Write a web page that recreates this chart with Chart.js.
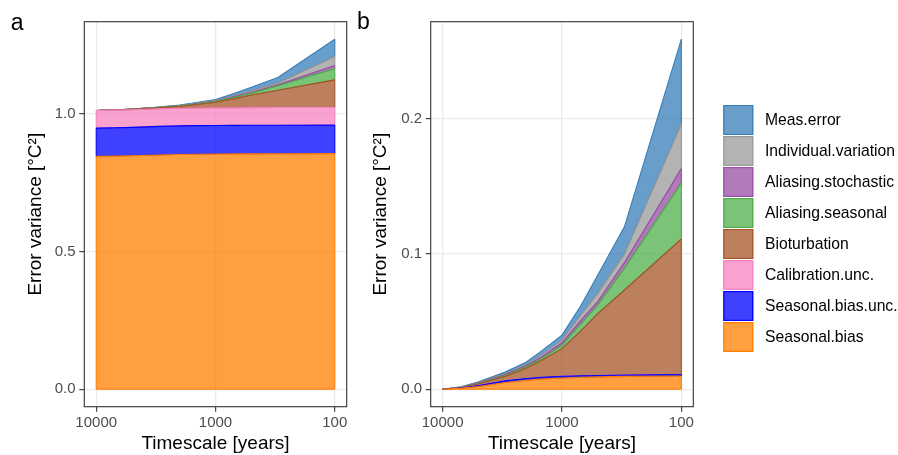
<!DOCTYPE html>
<html><head><meta charset="utf-8">
<script src="https://cdn.jsdelivr.net/npm/chart.js@4.4.1/dist/chart.umd.min.js"></script>
<style>
html,body{margin:0;padding:0;background:#fff;overflow:hidden;}
#wrap{position:relative;width:898px;height:455px;background:#fff;}
canvas{position:absolute;top:0;}
#ca{left:0;width:355px;height:455px;}
#cb{left:355px;width:543px;height:455px;}
</style></head><body>
<div id="wrap"><canvas id="ca" width="355" height="455"></canvas><canvas id="cb" width="543" height="455"></canvas></div>
<script>
// ---------- data ----------
const timescales = [10000, 7000, 5000, 3000, 2000, 1500, 1000, 700, 500, 300, 100];
const seriesNames = ['Seasonal.bias','Seasonal.bias.unc.','Calibration.unc.','Bioturbation','Aliasing.seasonal','Aliasing.stochastic','Individual.variation','Meas.error'];

// panel b (timescale dependent part)
const b_seasonalBias        = [0, 0.0008, 0.0020, 0.0050, 0.0066, 0.0075, 0.0083, 0.0088, 0.0091, 0.0095, 0.0098];
const b_seasonalBiasUnc     = [0, 0.0003, 0.0008, 0.0012, 0.0013, 0.0013, 0.0013, 0.0012, 0.0011, 0.0010, 0.0010];
const b_calibration         = [0, 0, 0, 0, 0, 0, 0, 0, 0, 0, 0];
const b_bioturbation        = [0, 0.0002, 0.0012, 0.0033, 0.0076, 0.0122, 0.0204, 0.0330, 0.0458, 0.0628, 0.1002];
const b_aliasingSeasonal    = [0, 0.0001, 0.0004, 0.0007, 0.0010, 0.0014, 0.0024, 0.0050, 0.0065, 0.0162, 0.0414];
const b_aliasingStochastic  = [0, 0.0001, 0.0003, 0.0006, 0.0008, 0.0013, 0.0019, 0.0025, 0.0025, 0.0040, 0.0106];
const b_individualVariation = [0, 0.0001, 0.0003, 0.0007, 0.0010, 0.0015, 0.0022, 0.0040, 0.0060, 0.0065, 0.0330];
const b_measError           = [0, 0.0002, 0.0005, 0.0013, 0.0017, 0.0028, 0.0035, 0.0068, 0.0136, 0.0200, 0.0626];

// panel a (total error variance)
const a_seasonalBias        = [0.845, 0.8458, 0.847, 0.850, 0.8516, 0.8525, 0.8533, 0.8538, 0.8541, 0.8545, 0.8548];
const a_seasonalBiasUnc     = [0.1025, 0.1028, 0.1033, 0.1037, 0.1038, 0.1038, 0.1038, 0.1037, 0.1036, 0.1035, 0.1035];
const a_calibration         = [0.064, 0.064, 0.064, 0.064, 0.064, 0.064, 0.064, 0.064, 0.064, 0.064, 0.064];
const a_bioturbation        = [0, 0.0002, 0.0012, 0.0033, 0.0076, 0.0122, 0.0204, 0.0330, 0.0458, 0.0628, 0.1002];
const a_aliasingSeasonal    = [0, 0.0001, 0.0004, 0.0007, 0.0010, 0.0014, 0.0024, 0.0050, 0.0065, 0.0162, 0.0414];
const a_aliasingStochastic  = [0, 0.0001, 0.0003, 0.0006, 0.0008, 0.0013, 0.0019, 0.0025, 0.0025, 0.0040, 0.0106];
const a_individualVariation = [0, 0.0001, 0.0003, 0.0007, 0.0010, 0.0015, 0.0022, 0.0040, 0.0060, 0.0065, 0.0330];
const a_measError           = [0, 0.0002, 0.0005, 0.0013, 0.0017, 0.0028, 0.0035, 0.0068, 0.0136, 0.0200, 0.0626];

const xTicks  = [10000, 1000, 100];
const yTicksA = [0, 0.5, 1.0];
const yTicksB = [0, 0.1, 0.2];

// ---------- styles ----------
const lineColors = ['#FF7F00','#0000FF','#F781BF','#A65628','#4DAF4A','#984EA3','#999999','#377EB8'];
const fillColors = ['rgba(255,127,0,0.75)','rgba(0,0,255,0.75)','rgba(247,129,191,0.75)','rgba(166,86,40,0.75)',
                    'rgba(77,175,74,0.75)','rgba(152,78,163,0.75)','rgba(153,153,153,0.75)','rgba(55,126,184,0.75)'];
const FAMILY = "'Liberation Sans', Arial, Helvetica, sans-serif";
Chart.defaults.font.family = FAMILY;

function makeDatasets(list){
  return list.map((vals,i)=>({
    label: seriesNames[i],
    data: timescales.map((t,j)=>({x:t, y:vals[j]})),
    fill: i===0 ? 'origin' : '-1',
    backgroundColor: fillColors[i],
    borderColor: lineColors[i],
    borderWidth: 1.1,
    pointRadius: 0,
    pointHoverRadius: 0,
    tension: 0
  }));
}

const outlinePlugin = {
  id:'outline',
  afterDatasetDraw(chart, args){
    const i = args.index, pts = args.meta.data;
    if(!pts || !pts.length) return;
    const ys = chart.scales.y;
    const lower = i===0 ? pts.map(p=>({x:p.x, y:ys.getPixelForValue(0)})) : chart.getDatasetMeta(i-1).data;
    const ctx = chart.ctx, n = pts.length-1;
    ctx.save();
    ctx.strokeStyle = lineColors[i]; ctx.lineWidth = 1.1;
    ctx.beginPath();
    ctx.moveTo(lower[0].x, lower[0].y); ctx.lineTo(pts[0].x, pts[0].y);
    ctx.moveTo(lower[n].x, lower[n].y); ctx.lineTo(pts[n].x, pts[n].y);
    ctx.moveTo(lower[0].x, lower[0].y);
    for(let k=1;k<=n;k++) ctx.lineTo(lower[k].x, lower[k].y);
    ctx.stroke();
    ctx.restore();
  }
};

const framePlugin = {
  id:'frame',
  afterDraw(chart, args, opts){
    const a = chart.chartArea, ctx = chart.ctx;
    ctx.save();
    ctx.strokeStyle = '#333333'; ctx.lineWidth = 1.1;
    ctx.strokeRect(a.left, a.top, a.right-a.left, a.bottom-a.top);
    ctx.fillStyle = '#000'; ctx.font = '23px ' + FAMILY; ctx.textBaseline = 'alphabetic'; ctx.textAlign='left';
    ctx.fillText(opts.tag, opts.tx, opts.ty);
    ctx.restore();
  }
};

const legendPlugin = {
  id:'sideLegend',
  afterDraw(chart){
    const ctx = chart.ctx, ds = chart.data.datasets;
    ctx.save();
    ctx.font = '15.7px ' + FAMILY; ctx.textBaseline = 'middle'; ctx.textAlign = 'left';
    for(let r=0;r<ds.length;r++){
      const i = ds.length-1-r;
      const y0 = 105 + 31*r;
      ctx.fillStyle = '#fff'; ctx.fillRect(368.3, y0, 30, 30);
      ctx.fillStyle = fillColors[i]; ctx.fillRect(368.3, y0, 30, 30);
      ctx.strokeStyle = lineColors[i]; ctx.lineWidth = 1.2;
      ctx.strokeRect(368.9, y0+0.6, 28.8, 28.8);
      ctx.fillStyle = '#000';
      ctx.fillText(ds[i].label, 410, y0+15.5);
    }
    ctx.restore();
  }
};

function makeOptions(cfg){
  return {
    responsive:false, animation:false,
    layout:{padding:{left:0, right:cfg.padRight, top:21.7, bottom:0}},
    plugins:{legend:{display:false}, tooltip:{enabled:false}, frame:{tag:cfg.tag, tx:cfg.tx, ty:cfg.ty}},
    scales:{
      x:{
        type:'logarithmic', reverse:true, min:79.43, max:12589.25, bounds:'data',
        afterBuildTicks: s => { s.ticks = xTicks.map(v=>({value:v})); },
        afterFit: s => { s.height = 48.3; },
        ticks:{autoSkip:false, maxRotation:0, minRotation:0, padding:2.5, color:'#4D4D4D', font:{size:15}, callback: v => String(v)},
        grid:{color:'#EBEBEB', lineWidth:1.3, tickColor:'#333333', tickLength:5, tickWidth:1.1},
        border:{display:false},
        title:{display:true, text:'Timescale [years]', color:'#000', font:{size:19}, padding:{top:0,bottom:0}}
      },
      y:{
        type:'linear', stacked:true, min:cfg.ymin, max:cfg.ymax, bounds:'data',
        afterBuildTicks: s => { s.ticks = cfg.yTicks.map(v=>({value:v})); },
        afterFit: s => { s.width = cfg.yWidth; },
        ticks:{padding:3.7, color:'#4D4D4D', font:{size:15}, callback: v => Number(v).toFixed(1)},
        grid:{color:'#EBEBEB', lineWidth:1.3, tickColor:'#333333', tickLength:5, tickWidth:1.1},
        border:{display:false},
        title:{display:true, text:'Error variance [°C²]', color:'#000', font:{size:19}, padding:{top:cfg.titlePad,bottom:0}}
      }
    }
  };
}

new Chart(document.getElementById('ca'), {
  type:'line',
  data:{datasets: makeDatasets([a_seasonalBias,a_seasonalBiasUnc,a_calibration,a_bioturbation,a_aliasingSeasonal,a_aliasingStochastic,a_individualVariation,a_measError])},
  options: makeOptions({padRight:8.3, ymin:-0.0635, ymax:1.3336, yTicks:yTicksA, yWidth:84.3, titlePad:24.6, tag:'a', tx:10.8, ty:30}),
  plugins:[outlinePlugin, framePlugin]
});

new Chart(document.getElementById('cb'), {
  type:'line',
  data:{datasets: makeDatasets([b_seasonalBias,b_seasonalBiasUnc,b_calibration,b_bioturbation,b_aliasingSeasonal,b_aliasingStochastic,b_individualVariation,b_measError])},
  options: makeOptions({padRight:204.7, ymin:-0.0129, ymax:0.2715, yTicks:yTicksB, yWidth:75.7, titlePad:14.6, tag:'b', tx:2, ty:29}),
  plugins:[outlinePlugin, framePlugin, legendPlugin]
});
</script>
</body></html>
